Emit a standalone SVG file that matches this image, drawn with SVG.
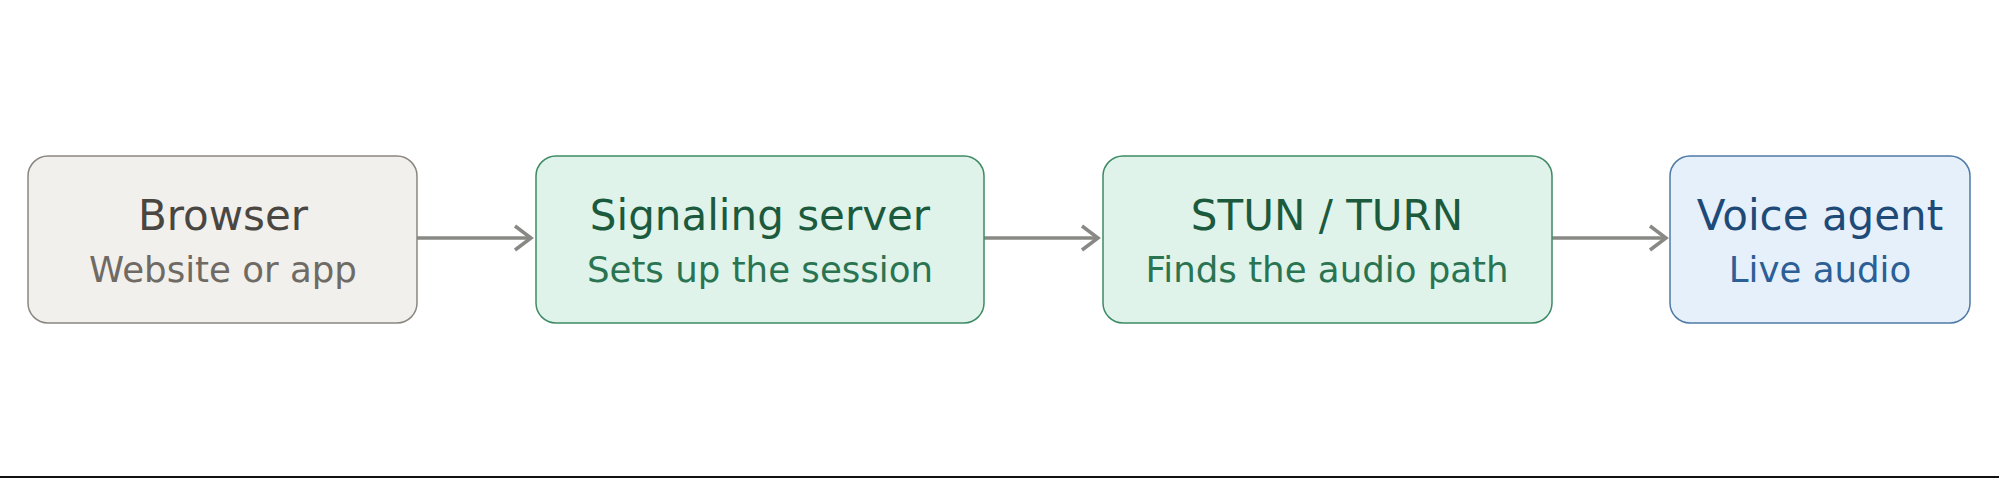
<svg xmlns="http://www.w3.org/2000/svg" width="1999" height="478" viewBox="0 0 1999 478">
<style>
text{font-family:"DejaVu Sans","Noto Sans",sans-serif;text-anchor:middle}
.t{font-size:42px}
.s{font-size:35.6px}
.conn{stroke:#888885;stroke-width:3.5;fill:none}
.gray rect{fill:#f2f0ec;stroke:#8a8782;stroke-width:1.5}
.gray .t{fill:#4a4642}.gray .s{fill:#6f6a64}
.green rect{fill:#dff3ea;stroke:#3e8a64;stroke-width:1.5}
.green .t{fill:#1c5a3d}.green .s{fill:#2a7452}
.blue rect{fill:#e6f0fb;stroke:#4f7aa6;stroke-width:1.5}
.blue .t{fill:#1e4a78}.blue .s{fill:#2b5f96}
</style>
<defs>
<marker id="ah" viewBox="0 0 22 28" refX="19" refY="14" markerWidth="22" markerHeight="28" markerUnits="userSpaceOnUse" orient="auto">
<path d="M3,2 L19,14 L3,26" fill="none" stroke="#888885" stroke-width="3.5"/>
</marker>
</defs>
<rect width="1999" height="478" fill="#ffffff"/>
<g id="connectors">
<line class="conn" x1="417" y1="238" x2="531" y2="238" marker-end="url(#ah)"/>
<line class="conn" x1="984" y1="238" x2="1098" y2="238" marker-end="url(#ah)"/>
<line class="conn" x1="1552" y1="238" x2="1666" y2="238" marker-end="url(#ah)"/>
</g>
<g id="browser" class="gray">
<rect x="28" y="156" width="389" height="167" rx="20"/>
<text class="t" x="223" y="230">Browser</text>
<text class="s" x="223" y="282">Website or app</text>
</g>
<g id="signaling" class="green">
<rect x="536" y="156" width="448" height="167" rx="20"/>
<text class="t" x="760" y="230">Signaling server</text>
<text class="s" x="760" y="282">Sets up the session</text>
</g>
<g id="stun" class="green">
<rect x="1103" y="156" width="449" height="167" rx="20"/>
<text class="t" x="1327" y="230">STUN / TURN</text>
<text class="s" x="1327" y="282">Finds the audio path</text>
</g>
<g id="voice" class="blue">
<rect x="1670" y="156" width="300" height="167" rx="20"/>
<text class="t" x="1820" y="230">Voice agent</text>
<text class="s" x="1820" y="282">Live audio</text>
</g>
<rect x="0" y="476" width="1999" height="2" fill="#111111"/>
</svg>
